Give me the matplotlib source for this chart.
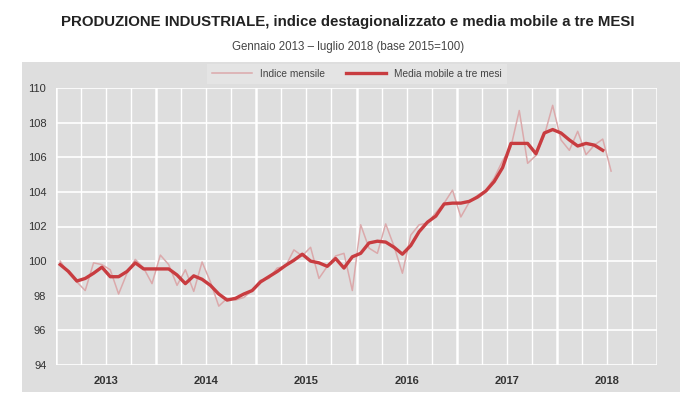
import numpy as np
import matplotlib
matplotlib.use("Agg")
import matplotlib.pyplot as plt
from matplotlib.patches import Rectangle

plt.rcParams["font.family"] = ["Liberation Sans", "DejaVu Sans"]

# dati mensili gen 2013 - lug 2018 (base 2015=100)
indice = [
    100.0, 99.3, 98.8, 98.3, 99.9, 99.8, 99.5, 98.1, 99.3, 100.1, 99.6, 98.7,    # 2013
    100.35, 99.8, 98.6, 99.5, 98.25, 99.95, 98.8, 97.4, 97.85, 97.75, 97.9, 98.3,  # 2014
    98.9, 99.0, 99.6, 99.7, 100.65, 100.3, 100.8, 99.0, 99.7, 100.3, 100.45, 98.3,  # 2015
    102.1, 100.75, 100.45, 102.15, 100.85, 99.3, 101.5, 102.1, 102.2, 102.8, 103.35, 104.1,  # 2016
    102.55, 103.4, 103.8, 104.1, 104.8, 105.8, 106.6, 108.7, 105.65, 106.1, 107.25, 109.0,  # 2017
    107.0, 106.4, 107.5, 106.15, 106.7, 107.05, 105.2,  # 2018
]
media_mobile = [
    99.8, 99.4, 98.85, 99.0, 99.3, 99.65, 99.1, 99.1, 99.4, 99.9, 99.55, 99.55,
    99.55, 99.55, 99.2, 98.7, 99.15, 98.95, 98.6, 98.1, 97.75, 97.85, 98.1, 98.3,
    98.8, 99.1, 99.4, 99.75, 100.05, 100.4, 100.0, 99.9, 99.7, 100.15, 99.6, 100.25,
    100.45, 101.05, 101.15, 101.1, 100.8, 100.4, 100.9, 101.7, 102.25, 102.6, 103.3, 103.35,
    103.35, 103.45, 103.7, 104.05, 104.6, 105.4, 106.8, 106.8, 106.8, 106.2, 107.4, 107.6,
    107.4, 107.0, 106.65, 106.8, 106.7, 106.4,
]
anni = ["2013", "2014", "2015", "2016", "2017", "2018"]
y_ticks = [94, 96, 98, 100, 102, 104, 106, 108, 110]

x_ind = np.arange(len(indice)) + 0.5
x_mm = np.arange(len(media_mobile)) + 0.5

fig = plt.figure(figsize=(6.96, 4.12), dpi=100)
fig.patch.set_facecolor("white")

# pannello grigio di sfondo (dietro agli assi)
fig.patches.append(Rectangle((22 / 696, 1 - 392 / 412), (680 - 22) / 696, (392 - 62) / 412,
                             transform=fig.transFigure, facecolor="#dedede",
                             edgecolor="none", zorder=-5))

ax = fig.add_axes([56 / 696, 1 - 365 / 412, 601 / 696, 277 / 412])
ax.set_facecolor("#dedede")

ax.plot(x_ind, indice, color="#dba9ab", lw=1.1, label="Indice mensile", zorder=3)
ax.plot(x_mm, media_mobile, color="#c83c40", lw=2.4, label="Media mobile a tre mesi", zorder=4)

ax.set_xlim(0, 72)
ax.set_ylim(94, 110)
ax.set_yticks(y_ticks)
ax.set_yticklabels([str(v) for v in y_ticks], fontsize=8, color="#333333")
ax.set_xticks(np.arange(6, 72, 12))
ax.set_xticklabels(anni, fontsize=8, fontweight="bold", color="#333333")
ax.tick_params(length=0, pad=8)
ax.tick_params(axis="y", pad=7)

for v in y_ticks:
    ax.axhline(v, color="white", lw=1.2, zorder=1)
for m in range(0, 73, 3):
    ax.axvline(m, color="white", lw=1.8 if m % 12 == 0 else 1.0, zorder=1)
for s in ax.spines.values():
    s.set_visible(False)

leg = fig.legend(loc="center", bbox_to_anchor=(357 / 696, 1 - 74 / 412), ncol=2,
                 fontsize=7.3, frameon=True, fancybox=False, handlelength=4.0,
                 columnspacing=2.0, borderpad=0.5)
leg.get_frame().set_facecolor("#e6e6e6")
leg.get_frame().set_edgecolor("none")
for t in leg.get_texts():
    t.set_color("#444444")

fig.text(0.5, 1 - 22 / 412,
         "PRODUZIONE INDUSTRIALE, indice destagionalizzato e media mobile a tre MESI",
         ha="center", va="center", fontsize=10.8, fontweight="bold", color="#222222")
fig.text(0.5, 1 - 47 / 412, "Gennaio 2013 – luglio 2018 (base 2015=100)",
         ha="center", va="center", fontsize=8.3, color="#444444")

fig.savefig("out.png", dpi=100)
